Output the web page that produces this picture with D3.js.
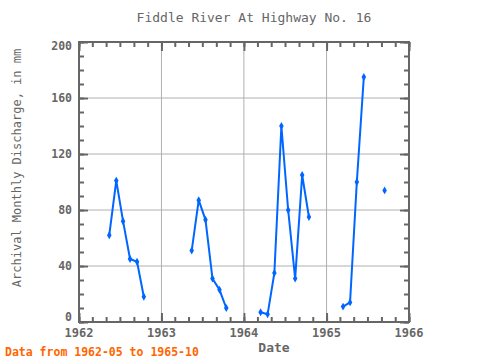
<!DOCTYPE html>
<html><head><meta charset="utf-8">
<script src="https://cdn.jsdelivr.net/npm/d3@7"></script>
<style>body{margin:0;background:#fff}svg{display:block}</style>
</head><body>
<script>
const months = [
 "1962-05","1962-06","1962-07","1962-08","1962-09","1962-10","1962-11","1962-12",
 "1963-01","1963-02","1963-03","1963-04","1963-05","1963-06","1963-07","1963-08","1963-09","1963-10","1963-11","1963-12",
 "1964-01","1964-02","1964-03","1964-04","1964-05","1964-06","1964-07","1964-08","1964-09","1964-10","1964-11","1964-12",
 "1965-01","1965-02","1965-03","1965-04","1965-05","1965-06","1965-07","1965-08","1965-09","1965-10"];
const discharge = [
 62,101,72,45,43,18,null,null,
 null,null,null,null,51,87,73,31,23,10,null,null,
 null,null,7,5.5,35,140,80,31,105,75,null,null,
 null,null,11,14,100,175,null,null,94,null];
const xTickLabels = ["1962","1963","1964","1965","1966"];
const yTickValues = [0,40,80,120,160,200];

const W=480,H=360, L=79,R=409,T=42,B=322;
const svg=d3.select("body").append("svg").attr("width",W).attr("height",H);
const font="'DejaVu Sans Mono', monospace";
const grey="#666";

const parse=d3.timeParse("%Y-%m-%d");
const data=months.map((m,i)=>({d:parse(m+"-15"),v:discharge[i]}));
const x=d3.scaleTime().domain([parse(xTickLabels[0]+"-01-01"),parse(xTickLabels[xTickLabels.length-1]+"-01-01")]).range([L,R]);
const y=d3.scaleLinear().domain([0,200]).range([B,T]);

// gridlines
const yearDates=xTickLabels.map(t=>parse(t+"-01-01"));
svg.append("g").selectAll("line").data(yearDates.slice(1,-1)).join("line")
 .attr("x1",d=>x(d)).attr("x2",d=>x(d)).attr("y1",T+9).attr("y2",B-9)
 .attr("stroke","#b0b0b0").attr("stroke-width",1);
svg.append("g").selectAll("line").data(yTickValues.slice(1,-1)).join("line")
 .attr("x1",L+9).attr("x2",R-9).attr("y1",d=>y(d)).attr("y2",d=>y(d))
 .attr("stroke","#b0b0b0").attr("stroke-width",1);

// ticks via axes (inside)
const minorX=x.ticks(d3.timeMonth.every(2));
function styleAxis(g){g.select(".domain").remove();g.selectAll("line").attr("stroke",grey).attr("stroke-width",2);g.selectAll("text").remove();}
svg.append("g").attr("transform",`translate(0,${B})`).call(d3.axisTop(x).tickValues(minorX).tickSize(5)).call(styleAxis);
svg.append("g").attr("transform",`translate(0,${T})`).call(d3.axisBottom(x).tickValues(minorX).tickSize(5)).call(styleAxis);
svg.append("g").attr("transform",`translate(0,${B})`).call(d3.axisTop(x).tickValues(yearDates).tickSize(9)).call(styleAxis);
svg.append("g").attr("transform",`translate(0,${T})`).call(d3.axisBottom(x).tickValues(yearDates).tickSize(9)).call(styleAxis);
const minorY=d3.range(0,201,10);
svg.append("g").attr("transform",`translate(${L},0)`).call(d3.axisRight(y).tickValues(minorY).tickSize(5)).call(styleAxis);
svg.append("g").attr("transform",`translate(${R},0)`).call(d3.axisLeft(y).tickValues(minorY).tickSize(5)).call(styleAxis);
svg.append("g").attr("transform",`translate(${L},0)`).call(d3.axisRight(y).tickValues(yTickValues).tickSize(9)).call(styleAxis);
svg.append("g").attr("transform",`translate(${R},0)`).call(d3.axisLeft(y).tickValues(yTickValues).tickSize(9)).call(styleAxis);

// frame
svg.append("rect").attr("x",L).attr("y",T).attr("width",R-L).attr("height",B-T)
 .attr("fill","none").attr("stroke",grey).attr("stroke-width",2);

// tick labels
svg.append("g").selectAll("text").data(xTickLabels).join("text")
 .attr("x",(d,i)=>x(yearDates[i])).attr("y",337).attr("text-anchor","middle")
 .attr("font-family",font).attr("font-size",12).attr("font-weight","bold").attr("fill",grey).text(d=>d);
svg.append("g").selectAll("text").data(yTickValues).join("text")
 .attr("x",72).attr("y",d=>y(d)+4+(d===200?4:d===0?-5:0)).attr("text-anchor","end")
 .attr("font-family",font).attr("font-size",11.5).attr("font-weight","bold").attr("fill",grey).text(d=>d);

// line
const blue="#0066ff";
const line=d3.line().defined(d=>d.v!==null).x(d=>x(d.d)).y(d=>y(d.v));
svg.append("path").datum(data).attr("d",line).attr("fill","none").attr("stroke",blue).attr("stroke-width",2);
svg.append("g").selectAll("path").data(data.filter(d=>d.v!==null)).join("path")
 .attr("d",d3.symbol(d3.symbolDiamond,18)).attr("transform",d=>`translate(${x(d.d)},${y(d.v)})`)
 .attr("fill",blue);

// titles
svg.append("text").attr("x",254).attr("y",22).attr("text-anchor","middle")
 .attr("font-family",font).attr("font-size",13).attr("fill",grey).text("Fiddle River At Highway No. 16");
svg.append("text").attr("x",274).attr("y",352).attr("text-anchor","middle")
 .attr("font-family",font).attr("font-size",13).attr("font-weight","bold").attr("fill",grey).text("Date");
svg.append("text").attr("transform","translate(21,168) rotate(-90)").attr("text-anchor","middle")
 .attr("font-family",font).attr("font-size",12).attr("fill",grey).text("Archival Monthly Discharge, in mm");
svg.append("text").attr("x",5).attr("y",356)
 .attr("font-family",font).attr("font-size",11.5).attr("font-weight","bold").attr("fill","#ff6600").text("Data from 1962-05 to 1965-10");
</script>
</body></html>
